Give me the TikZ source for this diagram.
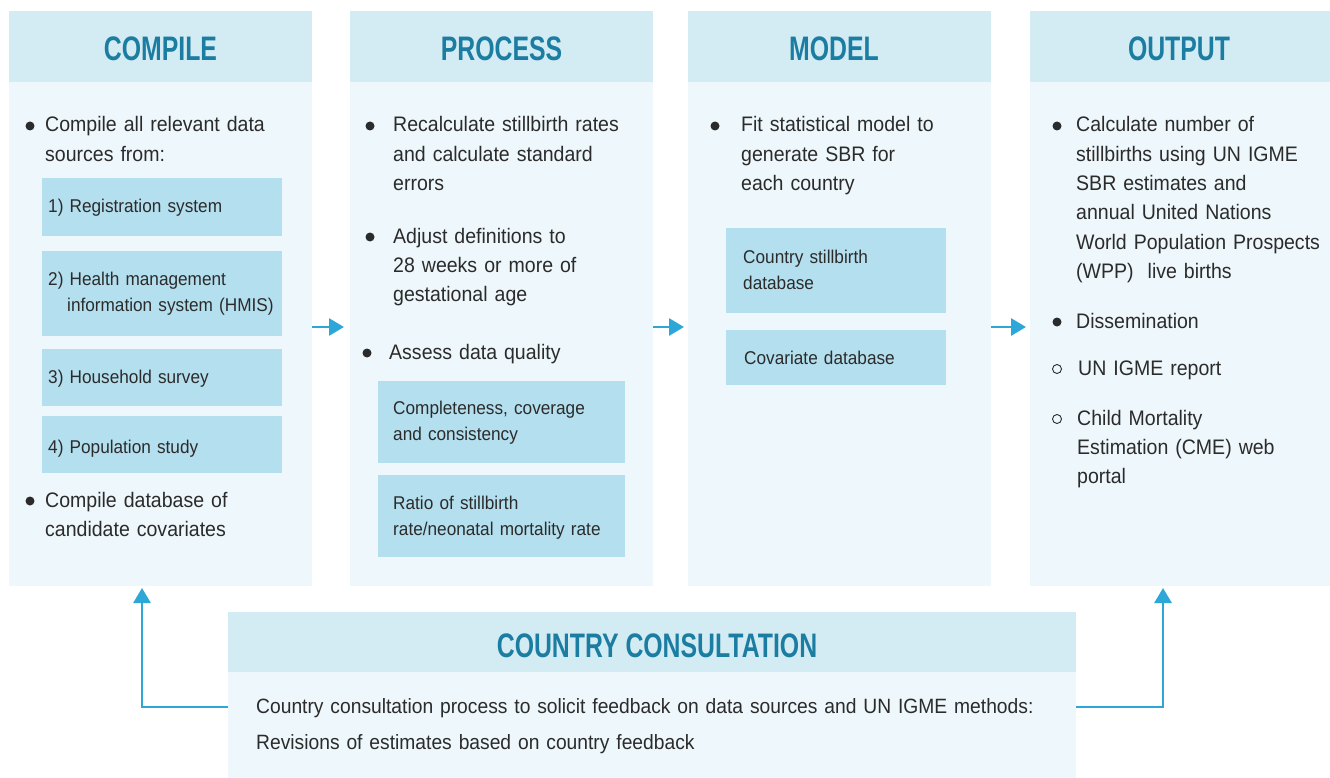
\documentclass[tikz,border=0pt]{standalone}
\usepackage{fontspec}
\setmainfont{Liberation Sans}[FakeStretch=0.93]
\newfontfamily\hdfont{Liberation Sans}[FakeStretch=0.73]
\usetikzlibrary{arrows.meta}
\definecolor{hdr}{HTML}{D3EBF3}
\definecolor{bdy}{HTML}{EEF7FB}
\definecolor{subfill}{HTML}{B4DFEE}
\definecolor{ttl}{HTML}{1C7DA2}
\definecolor{arrc}{HTML}{2CA7D7}
\definecolor{ink}{HTML}{2B2B2B}
\begin{document}
\begin{tikzpicture}[x=1pt,y=-1pt,
  box/.style={anchor=north west, inner sep=0pt, outer sep=0pt, draw=none},
  hdrbox/.style={box, fill=hdr},
  bdybox/.style={box, fill=bdy},
  subbox/.style={box, fill=subfill},
  title/.style={anchor=base, inner sep=0pt, text=ttl, font=\hdfont\bfseries\fontsize{34}{38}\selectfont},
  txt/.style={anchor=base west, inner sep=0pt, text width=420pt, align=left, text=ink, font=\fontsize{21}{29.3}\selectfont},
  stxt/.style={txt, font=\fontsize{18.5}{26.5}\selectfont},
  ktxt/.style={txt, text width=820pt, font=\fontsize{20.7}{29}\selectfont},
  flow/.style={draw=arrc, line width=2.8pt, -{Triangle[length=15pt,width=17pt]}},
  dot/.style={fill=ink},
  ring/.style={draw=ink, line width=0.9pt}
]
\useasboundingbox (0,0) rectangle (1330,778);

% ---- columns ----
\node[hdrbox, minimum width=303pt, minimum height=71pt] (h1) at (9,11) {};
\node[bdybox, minimum width=303pt, minimum height=504pt] (compile) at (9,82) {};
\node[hdrbox, minimum width=303pt, minimum height=71pt] (h2) at (350,11) {};
\node[bdybox, minimum width=303pt, minimum height=504pt] (process) at (350,82) {};
\node[hdrbox, minimum width=303pt, minimum height=71pt] (h3) at (688,11) {};
\node[bdybox, minimum width=303pt, minimum height=504pt] (model) at (688,82) {};
\node[hdrbox, minimum width=300pt, minimum height=71pt] (h4) at (1030,11) {};
\node[bdybox, minimum width=300pt, minimum height=504pt] (output) at (1030,82) {};

\node[hdrbox, minimum width=848pt, minimum height=60pt] (h5) at (228,612) {};
\node[bdybox, minimum width=848pt, minimum height=106pt] (cons) at (228,672) {};

% ---- titles ----
\node[title] (t1) at (160.5,61) {COMPILE};
\node[title] (t2) at (501.5,61) {PROCESS};
\node[title] (t3) at (834,61) {MODEL};
\node[title] (t4) at (1179,61) {OUTPUT};
\node[title] (t5) at (657,657) {COUNTRY CONSULTATION};

% ---- compile ----
\fill[dot] (30,126) circle[radius=4.5pt];
\node[txt] (c1) at (45,132) {Compile all relevant data\\sources from:};
\node[subbox, minimum width=240pt, minimum height=58pt] (s1) at (42,178) {};
\node[stxt] (s1t) at (48,213) {1) Registration system};
\node[subbox, minimum width=240pt, minimum height=85pt] (s2) at (42,251) {};
\node[stxt] (s2t) at (48,285) {2) Health management\\\hspace*{19pt}information system (HMIS)};
\node[subbox, minimum width=240pt, minimum height=57pt] (s3) at (42,349) {};
\node[stxt] (s3t) at (48,383) {3) Household survey};
\node[subbox, minimum width=240pt, minimum height=57pt] (s4) at (42,416) {};
\node[stxt] (s4t) at (48,453) {4) Population study};
\fill[dot] (30,501) circle[radius=4.5pt];
\node[txt] (c2) at (45,507) {Compile database of\\candidate covariates};

% ---- process ----
\fill[dot] (370,126) circle[radius=4.5pt];
\node[txt] (p1) at (393,132) {Recalculate stillbirth rates\\and calculate standard\\errors};
\fill[dot] (370,237) circle[radius=4.5pt];
\node[txt] (p2) at (393,243) {Adjust definitions to\\28 weeks or more of\\gestational age};
\fill[dot] (367,353) circle[radius=4.5pt];
\node[txt] (p3) at (389,359) {Assess data quality};
\node[subbox, minimum width=247pt, minimum height=82pt] (s5) at (378,381) {};
\node[stxt] (s5t) at (393,414) {Completeness, coverage\\and consistency};
\node[subbox, minimum width=247pt, minimum height=82pt] (s6) at (378,475) {};
\node[stxt] (s6t) at (393,509) {Ratio of stillbirth\\rate/neonatal mortality rate};

% ---- model ----
\fill[dot] (715,126) circle[radius=4.5pt];
\node[txt] (m1) at (741,132) {Fit statistical model to\\generate SBR for\\each country};
\node[subbox, minimum width=220pt, minimum height=85pt] (s7) at (726,228) {};
\node[stxt] (s7t) at (743,263) {Country stillbirth\\database};
\node[subbox, minimum width=220pt, minimum height=55pt] (s8) at (726,330) {};
\node[stxt] (s8t) at (744,364) {Covariate database};

% ---- output ----
\fill[dot] (1057,126) circle[radius=4.5pt];
\node[txt] (o1) at (1076,132) {Calculate number of\\stillbirths using UN IGME\\SBR estimates and\\annual United Nations\\World Population Prospects\\(WPP)\ \ live births};
\fill[dot] (1057,322) circle[radius=4.5pt];
\node[txt] (o2) at (1076,328) {Dissemination};
\draw[ring] (1057,369) circle[radius=4.5pt];
\node[txt] (o3) at (1078,375) {UN IGME report};
\draw[ring] (1057,419) circle[radius=4.5pt];
\node[txt] (o4) at (1077,425) {Child Mortality\\Estimation (CME) web\\portal};

% ---- consultation ----
\node[ktxt] (k1) at (256,713) {Country consultation process to solicit feedback on data sources and UN IGME methods:};
\node[ktxt] (k2) at (256,749) {Revisions of estimates based on country feedback};

% ---- connectors ----
\draw[flow, shorten >=6pt] ([yshift=7pt]compile.east) -- ([yshift=7pt]process.west);
\draw[flow, shorten >=4pt] ([yshift=7pt]process.east) -- ([yshift=7pt]model.west);
\draw[flow, shorten >=4pt] ([yshift=7pt]model.east) -- ([yshift=7pt]output.west);
\draw[flow, shorten >=2pt] ([yshift=18pt]cons.west) -| ([xshift=-18.5pt]compile.south);
\draw[flow, shorten >=2pt] ([yshift=18pt]cons.east) -| ([xshift=-17pt]output.south);
\end{tikzpicture}
\end{document}
